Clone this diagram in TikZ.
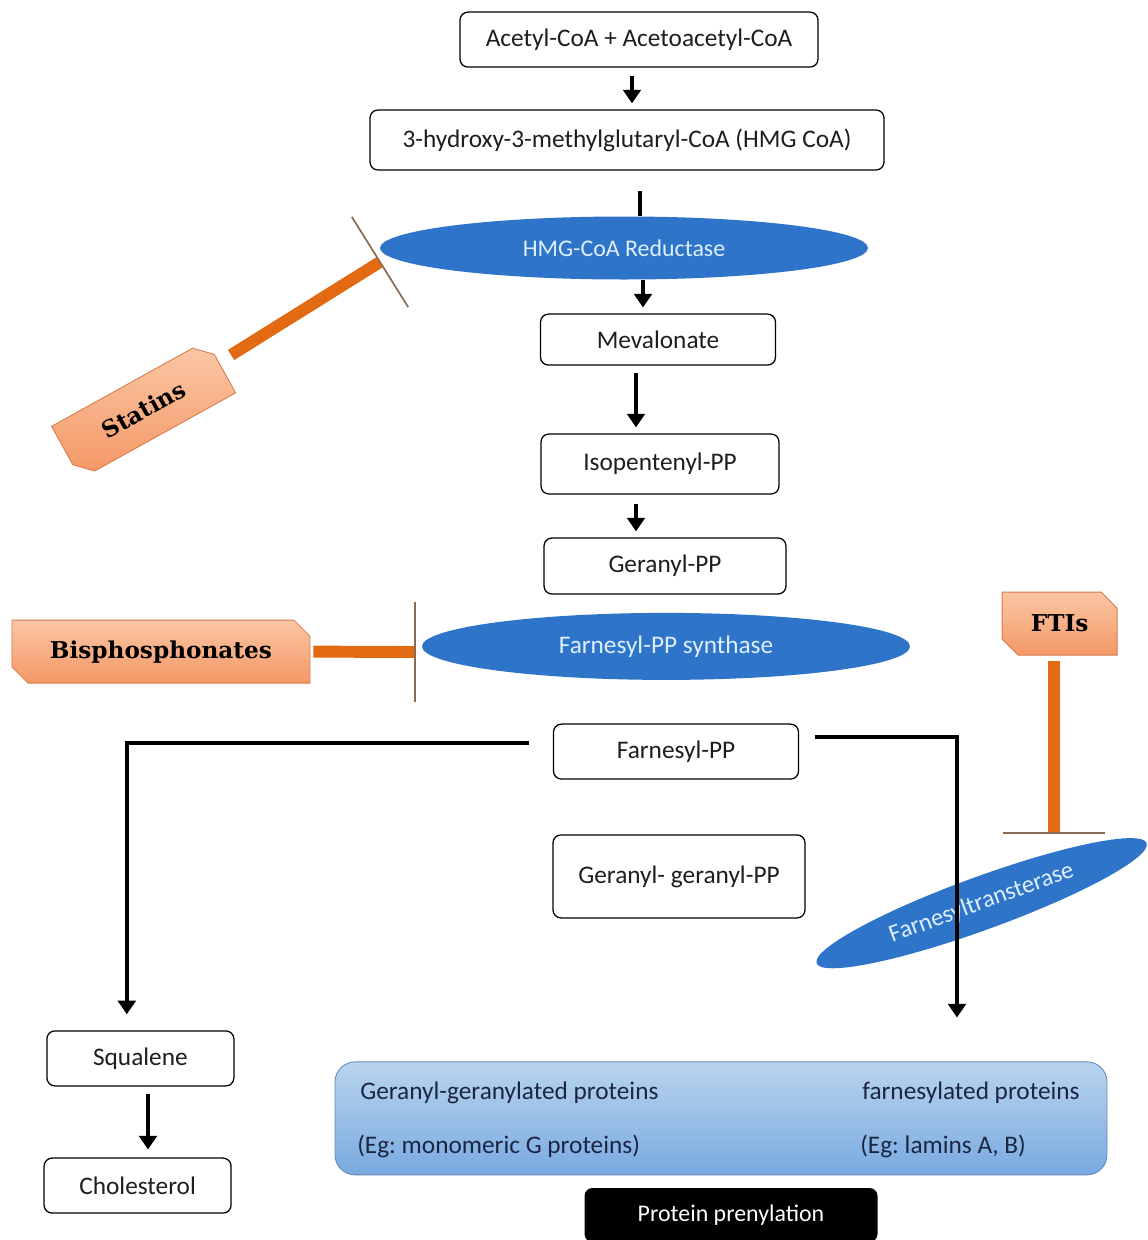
\documentclass[tikz,border=0pt]{standalone}
\usepackage{fontspec}
\setmainfont{Carlito}
\newfontfamily\slabfont{DejaVu Serif}
\usepackage{tikz}
\usetikzlibrary{positioning,arrows.meta,shapes,calc}
\usepackage{xcolor}
\definecolor{EnzBlue}{RGB}{46,117,202}
\definecolor{EnzText}{RGB}{222,238,255}
\definecolor{DrugTop}{RGB}{250,198,164}
\definecolor{DrugBottom}{RGB}{244,152,102}
\definecolor{DrugEdge}{RGB}{214,122,72}
\definecolor{BarOrange}{RGB}{226,106,18}
\definecolor{TbarBrown}{RGB}{140,105,80}
\definecolor{ProtTop}{RGB}{186,212,238}
\definecolor{ProtBottom}{RGB}{120,170,224}
\definecolor{ProtEdge}{RGB}{100,135,180}
\definecolor{ProtText}{RGB}{28,38,68}
\definecolor{DarkText}{RGB}{30,30,30}
\frenchspacing

\begin{document}
\begin{tikzpicture}[
    box/.style={rectangle, rounded corners=0.2cm, draw=black, line width=0.9pt, fill=white,
        font=\fontsize{18}{20}\selectfont, text=DarkText, align=center},
    enz/.style={ellipse, fill=EnzBlue, inner sep=0pt, text=EnzText},
    drug/.style={chamfered rectangle, chamfered rectangle corners={north east, south west},
        chamfered rectangle xsep=0.2cm, chamfered rectangle ysep=0.2cm, inner sep=0pt,
        draw=DrugEdge, line width=0.6pt, top color=DrugTop, bottom color=DrugBottom,
        font=\slabfont\bfseries\fontsize{16.5}{18}\selectfont, text=black},
    flow/.style={line width=2.8pt, -{Triangle[width=0.44cm, length=0.34cm]}},
    inh/.style={line width=8.5pt, BarOrange},
    tbar/.style={line width=1.2pt, TbarBrown},
    prottext/.style={font=\fontsize{18}{20}\selectfont, text=ProtText, anchor=west, inner sep=0pt}
]
\useasboundingbox (0,0) rectangle (28.7,-31);
% main pathway
\node[box, minimum width=8.95cm, minimum height=1.375cm] (acetyl) at (15.975,-0.99) {Acetyl-CoA + Acetoacetyl-CoA};
\node[box, minimum width=12.85cm, minimum height=1.5cm] (hmg) at (15.675,-3.5) {3-hydroxy-3-methylglutaryl-CoA (HMG CoA)};
\node[box, minimum width=5.875cm, minimum height=1.275cm] (meva) at (16.45,-8.49) {Mevalonate};
\node[box, minimum width=5.95cm, minimum height=1.5cm] (isop) at (16.5,-11.6) {Isopentenyl-PP};
\node[box, minimum width=6.05cm, minimum height=1.4cm] (gpp) at (16.625,-14.15) {Geranyl-PP};
\node[box, minimum width=6.125cm, minimum height=1.375cm] (farn) at (16.9,-18.79) {Farnesyl-PP};
\node[box, minimum width=6.3cm, minimum height=2.075cm] (ggpp) at (16.975,-21.91) {Geranyl- geranyl-PP};
\node[box, minimum width=4.675cm, minimum height=1.375cm] (squal) at (3.51,-26.46) {Squalene};
\node[box, minimum width=4.675cm, minimum height=1.375cm] (chol) at (3.44,-29.64) {Cholesterol};
% enzymes
\node[enz, minimum width=12.2cm, minimum height=1.575cm, font=\fontsize{17}{19}\selectfont] (red) at (15.6,-6.2) {HMG-CoA Reductase};
\node[enz, minimum width=12.2cm, minimum height=1.675cm, font=\fontsize{18}{20}\selectfont] (fps) at (16.65,-16.16) {Farnesyl-PP synthase};
% prenylated proteins
\node[rectangle, rounded corners=0.5cm, draw=ProtEdge, line width=0.6pt, top color=ProtTop, bottom color=ProtBottom,
    minimum width=19.3cm, minimum height=2.825cm] (prot) at (18.025,-27.96) {};
\node[prottext] (ggprot) at (9.0,-27.33) {Geranyl-geranylated proteins};
\node[prottext] (ggeg) at (8.925,-28.65) {(Eg: monomeric G proteins)};
\node[prottext] (fprot) at (21.55,-27.33) {farnesylated proteins};
\node[prottext] (feg) at (21.5,-28.65) {(Eg: lamins A, B)};
\node[rectangle, rounded corners=0.2cm, fill=black, text=white, font=\fontsize{17}{20}\selectfont,
    minimum width=7.325cm, minimum height=1.35cm] (pren) at (18.275,-30.375) {Protein prenylation};
% drugs
\node[drug, minimum width=4.43cm, minimum height=1.5cm, rotate=29] (statins) at (3.59,-10.24) {Statins};
\node[drug, minimum width=7.45cm, minimum height=1.575cm] (bisph) at (4.025,-16.29) {Bisphosphonates};
\node[drug, minimum width=2.875cm, minimum height=1.575cm] (ftis) at (26.49,-15.59) {FTIs};
\coordinate (stT) at (9.5,-6.55);
\coordinate (bpT) at (10.375,-16.3);
\coordinate (ftT) at (26.35,-20.825);
% pathway arrows
\draw[flow, shorten <=0.2cm, shorten >=0.15cm] ([xshift=-0.175cm]acetyl.south) -- ([xshift=-0.175cm]acetyl.south |- hmg.north);
\draw[line width=2.8pt, shorten <=0.5cm] ([xshift=0.325cm]hmg.south) -- ([xshift=0.325cm]hmg.south |- red.north);
\draw[flow, shorten >=0.15cm] ([xshift=0.475cm]red.south) -- ([xshift=0.475cm]red.south |- meva.north);
\draw[flow, shorten <=0.175cm, shorten >=0.15cm] ([xshift=-0.55cm]meva.south) -- ([xshift=-0.55cm]meva.south |- isop.north);
\draw[flow, shorten <=0.225cm, shorten >=0.15cm] ([xshift=-0.6cm]isop.south) -- ([xshift=-0.6cm]isop.south |- gpp.north);
\draw[flow, shorten <=0.6cm, shorten >=0.4cm] ([yshift=0.21cm]farn.west) -| ([xshift=-0.34cm]squal.north);
\draw[flow, shorten <=0.175cm, shorten >=0.2cm] ([xshift=0.19cm]squal.south) -- ([xshift=0.19cm]squal.south |- chol.north);
% farnesyltransferase branch
\node[enz, minimum width=8.78cm, minimum height=1.33cm, rotate=20, font=\fontsize{17.5}{20}\selectfont] (ftase) at (24.54,-22.58) {Farnesyltransterase};
\draw[flow, shorten <=0.4cm, shorten >=1.1cm] ([yshift=0.36cm]farn.east) -| ([xshift=5.9cm]prot.north);
% inhibitors
\draw[inh, shorten <=0.35cm] (statins) -- (stT);
\draw[tbar] ($(stT)!1.33cm!90:(statins)$) -- ($(stT)!1.33cm!-90:(statins)$);
\draw[inh, shorten <=0.075cm] (bisph.east) -- (bpT);
\draw[tbar] ($(bpT)+(0,1.25)$) -- ($(bpT)-(0,1.25)$);
\draw[inh, shorten <=0.125cm] (ftis.south -| ftT) -- (ftT);
\draw[tbar] ($(ftT)-(1.275,0)$) -- ($(ftT)+(1.275,0)$);
\end{tikzpicture}
\end{document}
